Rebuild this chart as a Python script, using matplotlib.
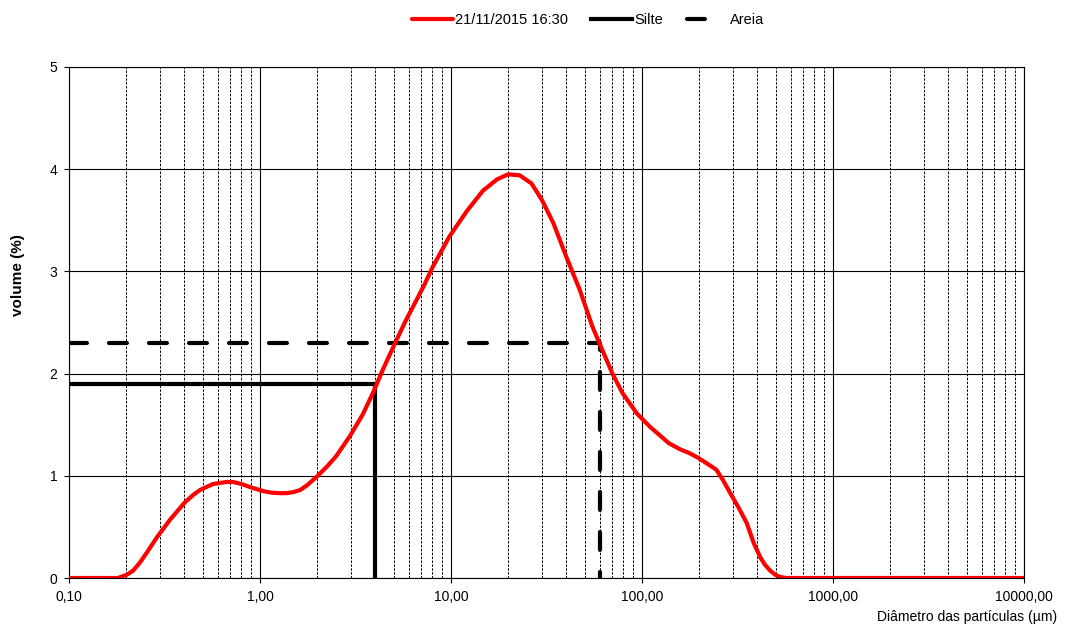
import matplotlib
matplotlib.use("Agg")
import matplotlib.pyplot as plt
from matplotlib.ticker import FixedLocator, FixedFormatter, NullFormatter, LogLocator

plt.rcParams['font.family'] = ['Liberation Sans', 'DejaVu Sans']

# Particle size distribution
diam = [0.10, 0.18, 0.20, 0.216, 0.235, 0.26, 0.289, 0.338, 0.404, 0.445, 0.484,
        0.568, 0.67, 0.72, 0.80, 0.885, 1.04, 1.15, 1.27, 1.38, 1.49, 1.62, 1.77,
        1.98, 2.24, 2.5, 2.96, 3.45, 3.9, 4.4, 5.1, 5.8, 6.6, 7.3, 8.0, 9.8,
        12.1, 14.7, 17.4, 19.9, 22.9, 26.4, 29.9, 34.4, 40.2, 47.2, 55.0, 62.0,
        70.0, 79.0, 94.0, 110.0, 125.0, 138.0, 158.0, 178.0, 195.0, 219.0, 245.0,
        265.0, 290.0, 320.0, 353.0, 385.0, 417.0, 440.0, 470.0, 500.0, 530.0,
        570.0, 1000.0, 10000.0]
volume = [0.0, 0.0, 0.03, 0.07, 0.15, 0.27, 0.40, 0.57, 0.74, 0.81, 0.86,
          0.92, 0.94, 0.94, 0.92, 0.89, 0.85, 0.835, 0.83, 0.83, 0.84, 0.86, 0.91,
          0.99, 1.09, 1.19, 1.39, 1.60, 1.81, 2.04, 2.30, 2.52, 2.72, 2.88, 3.04, 3.34,
          3.59, 3.79, 3.90, 3.95, 3.94, 3.86, 3.70, 3.47, 3.14, 2.82, 2.46, 2.23,
          2.00, 1.81, 1.61, 1.48, 1.39, 1.32, 1.26, 1.22, 1.18, 1.12, 1.06,
          0.96, 0.83, 0.69, 0.54, 0.34, 0.20, 0.13, 0.07, 0.03, 0.01,
          0.0, 0.0, 0.0]

silte_x = [0.10, 4.0, 4.0]
silte_y = [1.9, 1.9, 0.0]
areia_x = [0.10, 60.0, 60.0]
areia_y = [2.3, 2.3, 0.0]

series_label = "21/11/2015 16:30"
xtick_vals = [0.1, 1, 10, 100, 1000, 10000]
xtick_labels = ["0,10", "1,00", "10,00", "100,00", "1000,00", "10000,00"]
ytick_vals = [0, 1, 2, 3, 4, 5]

fig = plt.figure(figsize=(10.71, 6.26), dpi=100)
ax = fig.add_axes([69/1071, 48/626, (1024-69)/1071, (578-67)/626])

ax.set_xscale('log')
ax.set_xlim(0.1, 10000)
ax.set_ylim(0, 5)

ax.plot(diam, volume, color='#ff0000', lw=3, label=series_label, zorder=5,
        solid_joinstyle='round', solid_capstyle='round')
ax.plot(silte_x, silte_y, color='black', lw=3, label="Silte", zorder=4,
        solid_joinstyle='miter')
ax.plot(areia_x, areia_y, color='black', lw=3, label="Areia", zorder=4,
        linestyle=(0, (4.3, 5.3)), dash_capstyle='round')

ax.xaxis.set_major_locator(FixedLocator(xtick_vals))
ax.xaxis.set_major_formatter(FixedFormatter(xtick_labels))
ax.xaxis.set_minor_locator(LogLocator(base=10, subs=[2, 3, 4, 5, 6, 7, 8, 9], numticks=20))
ax.xaxis.set_minor_formatter(NullFormatter())
ax.set_yticks(ytick_vals)
ax.set_yticklabels([str(v) for v in ytick_vals])

ax.grid(which='major', axis='x', color='black', lw=0.8, ls='-')
ax.grid(which='minor', axis='x', color='black', lw=0.7, ls=(0, (2.5, 1.5)))
ax.grid(which='major', axis='y', color='black', lw=0.8, ls='-')
ax.set_axisbelow(True)

ax.tick_params(axis='both', which='major', direction='out', length=3.5, width=0.8,
               labelsize=10, colors='black', pad=5)
ax.tick_params(axis='x', which='minor', length=0)
ax.tick_params(axis='x', which='major', pad=5)
for s in ax.spines.values():
    s.set_color('black')
    s.set_linewidth(0.8)

fig.text(18/1071, 1 - 275/626, "volume (%)", rotation=90, ha='center', va='center',
         fontsize=11, fontweight='bold')
fig.text(1057/1071, 1 - 624/626, "Diâmetro das partículas (µm)", ha='right', va='bottom',
         fontsize=10)

leg = fig.legend(loc='center', bbox_to_anchor=(588/1071, 1 - 20/626), ncol=3,
                 frameon=False, fontsize=10.5, handlelength=2.8, handletextpad=0.15,
                 columnspacing=1.6)

fig.savefig("out.png", dpi=100)
